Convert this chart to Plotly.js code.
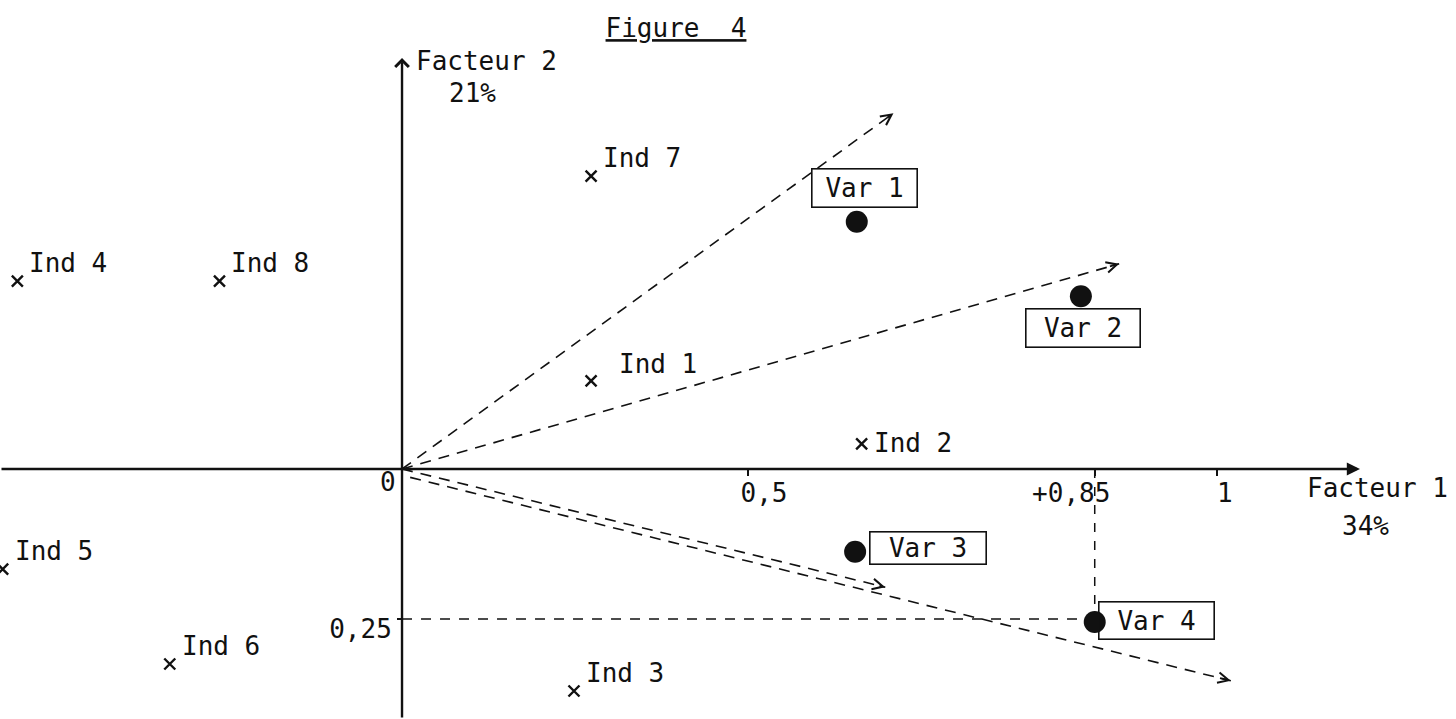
<!DOCTYPE html>
<html>
<head>
<meta charset="utf-8">
<script src="https://cdn.plot.ly/plotly-3.0.1.min.js"></script>
<style>
html,body{margin:0;padding:0;background:#ffffff;}
#chart{width:1456px;height:719px;}
</style>
</head>
<body>
<div id="chart"></div>
<script>
// ---- data (factor coordinates) ----
const individualNames = ['Ind 1', 'Ind 2', 'Ind 3', 'Ind 4', 'Ind 5', 'Ind 6', 'Ind 7', 'Ind 8'];
const individualF1 = [0.232, 0.564, 0.211, -0.472, -0.490, -0.285, 0.232, -0.224];
const individualF2 = [0.147, 0.042, -0.370, 0.313, -0.167, -0.325, 0.488, 0.313];

const variableNames = ['Var 1', 'Var 2', 'Var 3', 'Var 4'];
const variableF1 = [0.558, 0.833, 0.556, 0.85];
const variableF2 = [0.412, 0.288, -0.138, -0.255];

// vectors: start and end points
const vectorStartF1 = [0, 0, 0, 0.010];
const vectorStartF2 = [0, 0, 0, -0.014];
const vectorF1 = [0.603, 0.880, 0.593, 1.017];
const vectorF2 = [0.593, 0.342, -0.197, -0.353];

const xTickVals = [0.425, 0.85, 1];
const xTickText = ['\u00a0\u00a00,5', '+0,85\u00a0\u00a0\u00a0', '\u00a01'];
const yTickVals = [-0.25];
const yTickText = ['0,25'];

const guideF1 = 0.85;
const guideF2 = -0.25;

const axis1Title = 'Facteur 1';
const axis1Share = '34%';
const axis2Title = 'Facteur 2';
const axis2Share = '21%';
const figureTitle = 'Figure\u00a0\u00a04';

// ---- styling / layout (not data) ----
const FONT = 'DejaVu Sans Mono, Liberation Mono, monospace';
const INK = '#111111';
const FS = 26;
const X_RANGE = [-0.4933, 1.2933];
const Y_RANGE = [-0.4167, 0.7817];
const X_AXIS_END = 1.1755;
const Y_AXIS_END = 0.685;

// label offsets (pixels) for individuals
const indLabelShift = {
  'Ind 1': [26, 17],
  'Ind 2': [10, 1]
};
const defaultIndShift = [10, 18];

// box geometry for variable labels: [xshift, yshift, width, height]
const varBox = [
  [8, 34, 98, 31],
  [2, -32, 107, 31],
  [73, 4, 109, 25],
  [62, 1, 108, 30]
];

const traces = [];

// dashed vectors
for (let i = 0; i < vectorF1.length; i++) {
  traces.push({
    type: 'scatter', mode: 'lines',
    x: [vectorStartF1[i], vectorF1[i]], y: [vectorStartF2[i], vectorF2[i]],
    line: {color: INK, width: 1.6, dash: '11px,8px'},
    hoverinfo: 'skip', cliponaxis: false
  });
}

// guide lines to Var 4
traces.push({
  type: 'scatter', mode: 'lines',
  x: [0, guideF1], y: [guideF2, guideF2],
  line: {color: INK, width: 1.5, dash: '10px,9px'},
  hoverinfo: 'skip'
});
traces.push({
  type: 'scatter', mode: 'lines',
  x: [guideF1, guideF1], y: [0, guideF2],
  line: {color: INK, width: 1.5, dash: '9px,9px'},
  hoverinfo: 'skip'
});

// individuals
traces.push({
  type: 'scatter', mode: 'markers',
  x: individualF1, y: individualF2,
  marker: {symbol: 'x-thin-open', size: 11, color: INK, line: {color: INK, width: 2.4}},
  cliponaxis: false, hoverinfo: 'skip'
});

// variables
traces.push({
  type: 'scatter', mode: 'markers',
  x: variableF1, y: variableF2,
  marker: {symbol: 'circle', size: 22, color: INK},
  cliponaxis: false, hoverinfo: 'skip'
});

const annotations = [];

// axes with arrows
annotations.push({
  x: X_AXIS_END, y: 0, ax: X_RANGE[0], ay: 0,
  xref: 'x', yref: 'y', axref: 'x', ayref: 'y',
  text: '', showarrow: true, arrowhead: 2, arrowsize: 1.1, arrowwidth: 2.4, arrowcolor: INK
});
annotations.push({
  x: 0, y: Y_AXIS_END, ax: 0, ay: Y_RANGE[0],
  xref: 'x', yref: 'y', axref: 'x', ayref: 'y',
  text: '', showarrow: true, arrowhead: 4, arrowsize: 1.1, arrowwidth: 2.4, arrowcolor: INK
});

// arrowheads on vectors
for (let i = 0; i < vectorF1.length; i++) {
  const dx = vectorF1[i] - vectorStartF1[i];
  const dy = vectorF2[i] - vectorStartF2[i];
  annotations.push({
    x: vectorF1[i], y: vectorF2[i],
    ax: vectorF1[i] - 0.015 * dx, ay: vectorF2[i] - 0.015 * dy,
    xref: 'x', yref: 'y', axref: 'x', ayref: 'y',
    text: '', showarrow: true, arrowhead: 5, arrowsize: 1.1, arrowwidth: 1.9, arrowcolor: INK
  });
}

// individual labels
for (let i = 0; i < individualNames.length; i++) {
  const s = indLabelShift[individualNames[i]] || defaultIndShift;
  annotations.push({
    x: individualF1[i], y: individualF2[i], xref: 'x', yref: 'y',
    text: individualNames[i], showarrow: false,
    xanchor: 'left', yanchor: 'middle', xshift: s[0], yshift: s[1],
    font: {family: FONT, size: FS, color: INK}
  });
}

// variable boxes
for (let i = 0; i < variableNames.length; i++) {
  const b = varBox[i];
  annotations.push({
    x: variableF1[i], y: variableF2[i], xref: 'x', yref: 'y',
    text: variableNames[i], showarrow: false,
    xanchor: 'center', yanchor: 'middle', xshift: b[0], yshift: b[1],
    width: b[2], height: b[3], align: 'center', valign: 'middle',
    bordercolor: INK, borderwidth: 1.6, borderpad: 3, bgcolor: 'rgba(255,255,255,0)',
    font: {family: FONT, size: FS, color: INK}
  });
}

// origin label
annotations.push({
  x: 0, y: 0, xref: 'x', yref: 'y', text: '0', showarrow: false,
  xanchor: 'right', yanchor: 'top', xshift: -4, yshift: 4,
  font: {family: FONT, size: FS, color: INK}
});

// axis titles
annotations.push({
  x: 1305 / 1456, y: 1 - 488 / 719, xref: 'paper', yref: 'paper',
  text: axis1Title, showarrow: false, xanchor: 'left', yanchor: 'middle',
  font: {family: FONT, size: FS, color: INK}
});
annotations.push({
  x: 1365 / 1456, y: 1 - 526 / 719, xref: 'paper', yref: 'paper',
  text: axis1Share, showarrow: false, xanchor: 'center', yanchor: 'middle',
  font: {family: FONT, size: FS, color: INK}
});
annotations.push({
  x: 414 / 1456, y: 1 - 61 / 719, xref: 'paper', yref: 'paper',
  text: axis2Title, showarrow: false, xanchor: 'left', yanchor: 'middle',
  font: {family: FONT, size: FS, color: INK}
});
annotations.push({
  x: 472 / 1456, y: 1 - 93 / 719, xref: 'paper', yref: 'paper',
  text: axis2Share, showarrow: false, xanchor: 'center', yanchor: 'middle',
  font: {family: FONT, size: FS, color: INK}
});

const layout = {
  width: 1456, height: 719, autosize: false,
  margin: {l: 0, r: 0, t: 0, b: 0, pad: 0},
  paper_bgcolor: '#ffffff', plot_bgcolor: '#ffffff',
  showlegend: false,
  title: {
    text: figureTitle,
    x: 676 / 1456, xanchor: 'center', xref: 'paper',
    y: 1 - 28 / 719, yanchor: 'middle', yref: 'paper',
    font: {family: FONT, size: FS, color: INK, lineposition: 'under'}
  },
  xaxis: {
    range: X_RANGE, anchor: 'free', position: (719 - 469) / 719,
    showgrid: false, zeroline: false, showline: false,
    tickvals: xTickVals, ticktext: xTickText,
    ticks: 'outside', ticklen: 6, tickwidth: 2, tickcolor: INK,
    ticklabelstandoff: -5,
    tickfont: {family: FONT, size: FS, color: INK},
    fixedrange: true
  },
  yaxis: {
    range: Y_RANGE, anchor: 'free', position: 402 / 1456,
    showgrid: false, zeroline: false, showline: false,
    tickvals: yTickVals, ticktext: yTickText,
    ticks: 'outside', ticklen: 5, tickwidth: 2, tickcolor: INK,
    ticklabelshift: 10,
    tickfont: {family: FONT, size: FS, color: INK},
    fixedrange: true
  },
  annotations: annotations
};

Plotly.newPlot('chart', traces, layout, {displayModeBar: false, staticPlot: true});
</script>
</body>
</html>
